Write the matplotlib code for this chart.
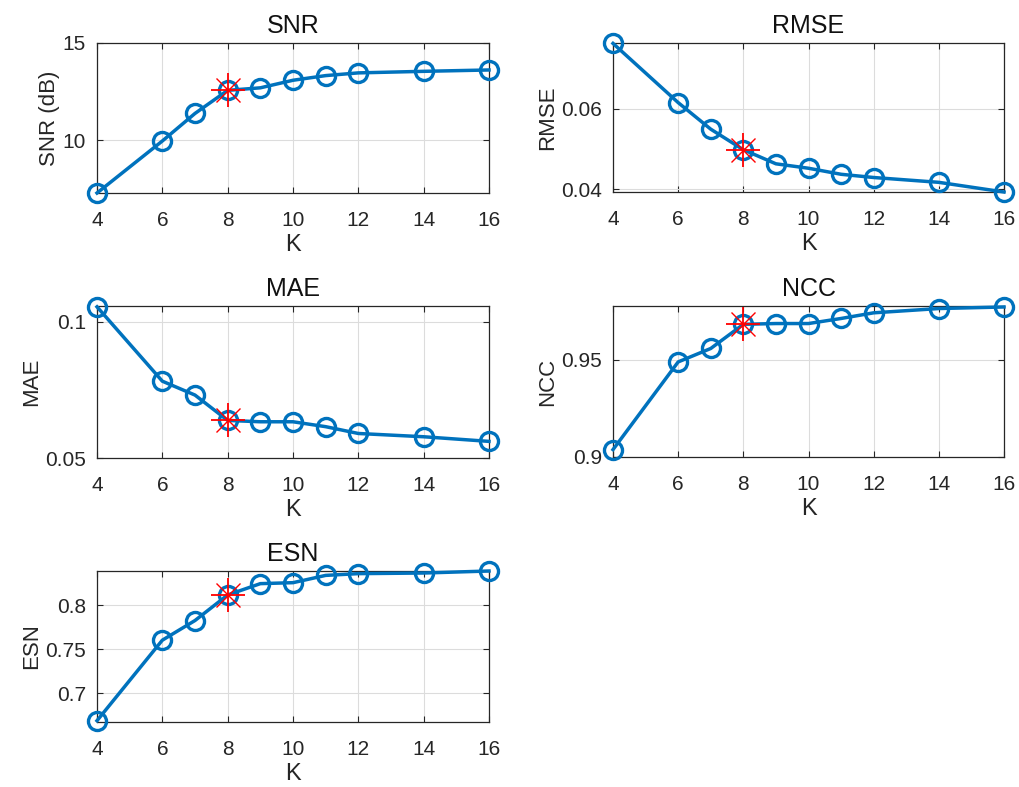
import matplotlib
matplotlib.use("Agg")
import matplotlib.pyplot as plt

plt.rcParams['font.family'] = ['Liberation Sans', 'DejaVu Sans']

K = [4, 6, 7, 8, 9, 10, 11, 12, 14, 16]
k_xticks = [4, 6, 8, 10, 12, 14, 16]
best_k = 8

snr = [7.27, 9.95, 11.37, 12.56, 12.69, 13.08, 13.32, 13.46, 13.54, 13.61]
rmse = [0.0762, 0.0615, 0.0549, 0.0498, 0.0463, 0.0452, 0.0437, 0.0429, 0.0417, 0.0393]
mae = [0.1055, 0.0782, 0.0731, 0.0638, 0.0633, 0.0633, 0.0615, 0.0590, 0.0578, 0.0561]
ncc = [0.9038, 0.9488, 0.9557, 0.9681, 0.9685, 0.9685, 0.9711, 0.9740, 0.9762, 0.9770]
esn = [0.6685, 0.7602, 0.7826, 0.8117, 0.8246, 0.8257, 0.8340, 0.8360, 0.8367, 0.8390]

panels = [
    dict(title='SNR', ylabel='SNR (dB)', y=snr, ylim=(7.27, 15), yticks=[10, 15], fmt='{:g}'),
    dict(title='RMSE', ylabel='RMSE', y=rmse, ylim=(0.0393, 0.0763), yticks=[0.04, 0.06], fmt='{:g}'),
    dict(title='MAE', ylabel='MAE', y=mae, ylim=(0.05, 0.1058), yticks=[0.05, 0.1], fmt='{:g}'),
    dict(title='NCC', ylabel='NCC', y=ncc, ylim=(0.9, 0.9775), yticks=[0.9, 0.95], fmt='{:g}'),
    dict(title='ESN', ylabel='ESN', y=esn, ylim=(0.667, 0.839), yticks=[0.7, 0.75, 0.8], fmt='{:g}'),
]

W, H = 1019, 787
fig = plt.figure(figsize=(W / 100, H / 100), dpi=100)

# axes rectangles in pixels: (left, top, right, bottom)
rects = [
    (97, 43, 489, 193),
    (613, 43, 1004, 192),
    (97, 306, 489, 458),
    (613, 306, 1004, 457),
    (97, 571, 489, 722),
]

txt = '#262626'
blue = '#0072BD'

for p, (l, t, r, b) in zip(panels, rects):
    ax = fig.add_axes([l / W, 1 - b / H, (r - l) / W, (b - t) / H])
    ax.plot(K, p['y'], '-o', color=blue, lw=2.5, ms=13, mfc='none', mew=2.4, clip_on=False, zorder=3)
    i = K.index(best_k)
    ax.plot([K[i]], [p['y'][i]], marker='+', color='red', ms=25, mew=1.3, clip_on=False, zorder=4)
    ax.plot([K[i]], [p['y'][i]], marker='x', color='red', ms=17, mew=1.0, clip_on=False, zorder=4)
    ax.set_xlim(4, 16)
    ax.set_ylim(*p['ylim'])
    ax.set_xticks(k_xticks)
    ax.set_yticks(p['yticks'])
    ax.set_yticklabels([p['fmt'].format(v) for v in p['yticks']])
    ax.grid(True, color='#dcdcdc', lw=0.8)
    ax.set_axisbelow(True)
    ax.tick_params(direction='in', top=True, right=True, length=4, width=0.8,
                   colors=txt, labelsize=15)
    ax.tick_params(axis='x', pad=13)
    ax.tick_params(axis='y', pad=8)
    for s in ax.spines.values():
        s.set_color(txt)
        s.set_linewidth(0.9)
    ax.set_title(p['title'], fontsize=18, color='#111111', pad=7)
    ax.set_xlabel('K', fontsize=17, color=txt, labelpad=3)
    ax.set_ylabel(p['ylabel'], fontsize=16, color=txt, labelpad=2)

fig.savefig('out.png', dpi=100, facecolor='white')
